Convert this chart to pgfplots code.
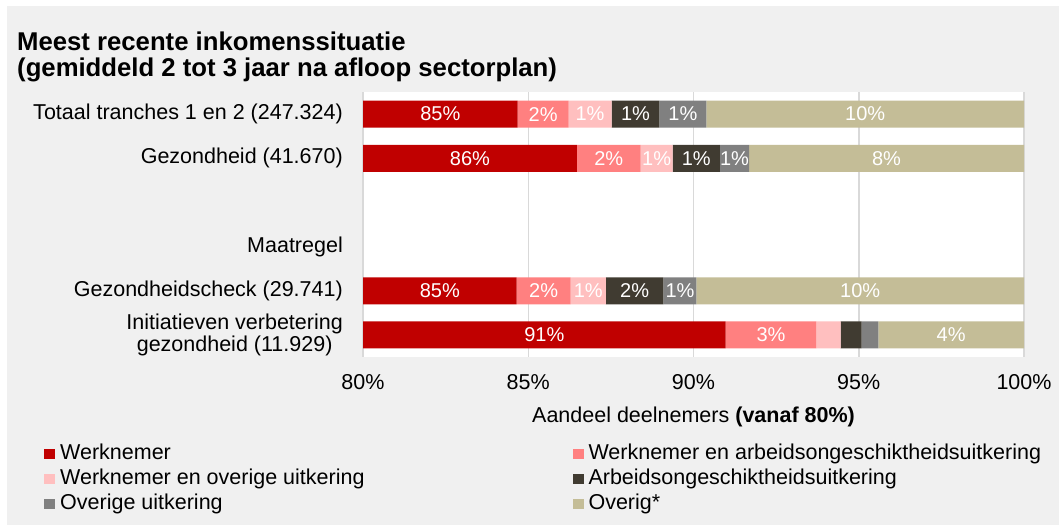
\documentclass[border=0pt]{standalone}
\usepackage{pgfplots}
\pgfplotsset{compat=1.18}
\usepackage{fontspec}
\setmainfont{Liberation Sans}

\definecolor{cWerk}{HTML}{C00000}
\definecolor{cWerkAO}{HTML}{FF8080}
\definecolor{cWerkOv}{HTML}{FFBFBF}
\definecolor{cAO}{HTML}{403B31}
\definecolor{cOvU}{HTML}{808080}
\definecolor{cOverig}{HTML}{C4BD97}
\definecolor{bgc}{HTML}{F0F0F0}
\definecolor{gridc}{HTML}{D9D9D9}

\pgfplotsset{
  sq/.style={legend image code/.code={\fill[##1] (0pt,-5pt) rectangle (11pt,5pt);}},
  frame/.style={at={(363pt,-357pt)}, anchor=south west,
    scale only axis, width=661pt, height=265pt,
    xmin=80, xmax=100, ymin=-0.5, ymax=5.5, y dir=reverse},
}

\begin{document}
\begin{tikzpicture}
\fill[white] (0,0) rectangle (1059pt,-525pt);
\useasboundingbox (0,0) rectangle (1059pt,-525pt);
\fill[bgc] (7pt,-6pt) rectangle (1059pt,-525pt);
\node[anchor=base west, inner sep=0pt, font=\fontsize{25.7}{30}\selectfont\bfseries] at (17pt,-50pt) {Meest recente inkomenssituatie};
\node[anchor=base west, inner sep=0pt, font=\fontsize{25.7}{30}\selectfont\bfseries] at (17pt,-76pt) {(gemiddeld 2 tot 3 jaar na afloop sectorplan)};

% rows: 0 Totaal, 1 Gezondheid, 3 Maatregel (kop), 4 Gezondheidscheck, 5 Initiatieven
\begin{axis}[
  frame,
  xbar stacked, bar width=27pt,
  axis background/.style={fill=white},
  axis line style={draw=none},
  major tick length=0pt,
  xtick={80,85,90,95,100},
  xticklabels={80\%,85\%,90\%,95\%,100\%},
  ytick={0,1,2,3,4,5},
  yticklabels={Totaal tranches 1 en 2 (247.324), Gezondheid (41.670), {}, Maatregel,
    Gezondheidscheck (29.741), {Initiatieven verbetering\\gezondheid (11.929)}},
  xmajorgrids, grid style={draw=gridc, line width=1.5pt},
  tick label style={font=\fontsize{21.5}{22}\selectfont, inner sep=0pt},
  yticklabel style={align=center, xshift=-20pt},
  xticklabel style={yshift=-17pt},
  xlabel={Aandeel deelnemers \textbf{(vanaf 80\%)}},
  xlabel style={at={(axis description cs:0.5,0)}, anchor=base, yshift=-65pt,
    font=\fontsize{21.5}{22}\selectfont, inner sep=0pt},
  legend columns=2, legend cell align=left,
  legend style={at={(axis description cs:-0.4826,-0.3283)}, anchor=north west,
    draw=none, fill=none, inner sep=0pt,
    font=\fontsize{21.5}{22}\selectfont,
    nodes={inner sep=0pt, text height=15pt, text depth=4pt},
    row sep=6pt,
    /tikz/every odd column/.append style={column sep=5pt},
    /tikz/every even column/.append style={column sep=208pt}},
]
\addplot[fill=cWerk, draw=none, sq] coordinates {(84.68,0) (86.47,1) (84.65,4) (90.97,5)};
\addplot[fill=cWerkAO, draw=none, sq] coordinates {(1.54,0) (1.93,1) (1.63,4) (2.75,5)};
\addplot[fill=cWerkOv, draw=none, sq] coordinates {(1.30,0) (0.97,1) (1.07,4) (0.73,5)};
\addplot[fill=cAO, draw=none, sq] coordinates {(1.45,0) (1.43,1) (1.74,4) (0.64,5)};
\addplot[fill=cOvU, draw=none, sq] coordinates {(1.42,0) (0.88,1) (1.00,4) (0.50,5)};
\addplot[fill=cOverig, draw=none, sq] coordinates {(9.61,0) (8.32,1) (9.91,4) (4.41,5)};
\legend{Werknemer, Werknemer en arbeidsongeschiktheidsuitkering,
  Werknemer en overige uitkering, Arbeidsongeschiktheidsuitkering,
  Overige uitkering, Overig*}
\end{axis}

% percentage labels, centred in the visible part of each segment
\begin{axis}[
  frame, hide axis, clip=false,
  nodes near coords, point meta=explicit symbolic,
  every node near coord/.append style={anchor=center, text=white,
    font=\fontsize{20}{22}\selectfont, inner sep=0pt},
]
\addplot[draw=none, mark=none] coordinates {
  (82.34,0) [85\%] (85.45,0) [2\%] (86.87,0) [1\%] (88.245,0) [1\%] (89.68,0) [1\%] (95.195,0) [10\%]
  (83.235,1) [86\%] (87.435,1) [2\%] (88.885,1) [1\%] (90.085,1) [1\%] (91.24,1) [1\%] (95.84,1) [8\%]
  (82.325,4) [85\%] (85.465,4) [2\%] (86.815,4) [1\%] (88.22,4) [2\%] (89.59,4) [1\%] (95.045,4) [10\%]
  (85.485,5) [91\%] (92.345,5) [3\%] (97.795,5) [4\%]
};
\end{axis}
\end{tikzpicture}
\end{document}
